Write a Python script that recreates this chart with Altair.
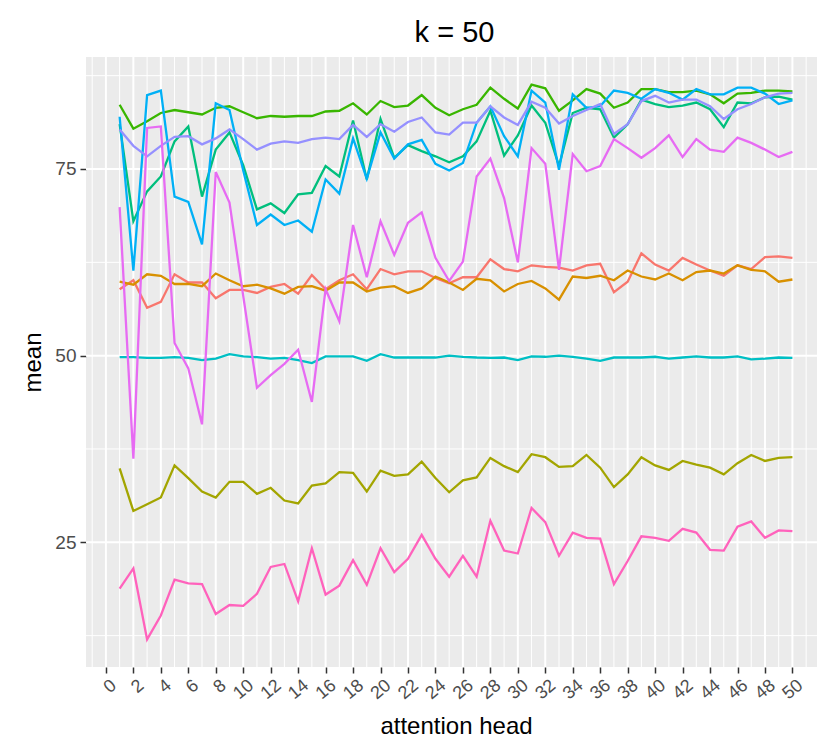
import altair as alt
import pandas as pd

heads = list(range(1, 51))

s01 = [58.9, 60.1, 56.4, 57.2, 60.9, 59.8, 59.8, 57.7, 58.8, 58.8,
       58.4, 59.2, 59.6, 58.3, 60.8, 58.9, 60.1, 60.9, 58.9, 61.6,
       60.9, 61.3, 61.3, 60.4, 59.7, 60.5, 60.5, 62.9, 61.6, 61.3,
       62.1, 61.9, 61.8, 61.4, 62.1, 62.3, 58.5, 59.9, 63.7, 62.2,
       61.4, 63.1, 62.2, 61.4, 60.7, 62.1, 61.6, 63.2, 63.3, 63.1]
s02 = [59.9, 59.5, 60.9, 60.7, 59.6, 59.6, 59.3, 61.0, 60.1, 59.3,
       59.5, 59.0, 58.3, 59.2, 59.3, 58.7, 59.8, 59.8, 58.6, 59.1,
       59.3, 58.4, 59.0, 60.6, 59.8, 58.8, 60.3, 60.1, 58.6, 59.6,
       60.0, 59.0, 57.5, 60.6, 60.4, 60.7, 60.1, 61.4, 60.6, 60.2,
       61.0, 60.1, 61.2, 61.4, 61.0, 62.1, 61.5, 61.3, 59.9, 60.2]
s03 = [34.9, 29.2, 30.1, 31.0, 35.3, 33.6, 31.8, 31.0, 33.1, 33.1,
       31.5, 32.3, 30.6, 30.2, 32.6, 32.9, 34.4, 34.3, 31.8, 34.6,
       33.9, 34.1, 35.8, 33.6, 31.7, 33.3, 33.7, 36.3, 35.2, 34.4,
       36.8, 36.4, 35.1, 35.2, 36.7, 35.0, 32.4, 34.1, 36.4, 35.3,
       34.7, 35.9, 35.4, 35.0, 34.1, 35.6, 36.7, 35.9, 36.3, 36.4]
s04 = [83.6, 80.4, 81.4, 82.5, 82.9, 82.6, 82.3, 83.2, 83.4, 82.6,
       81.8, 82.1, 82.0, 82.1, 82.1, 82.7, 82.8, 83.8, 82.3, 84.1,
       83.3, 83.5, 84.9, 83.2, 82.2, 83.0, 83.6, 85.9, 84.4, 83.1,
       86.3, 85.8, 82.8, 84.2, 85.7, 85.1, 83.2, 83.9, 85.7, 85.7,
       85.3, 85.3, 85.5, 85.0, 83.8, 85.1, 85.2, 85.5, 85.5, 85.4]
s05 = [81.0, 68.0, 72.0, 74.0, 78.7, 80.7, 71.3, 77.6, 79.9, 75.5,
       69.6, 70.4, 69.1, 71.6, 71.8, 75.4, 74.0, 81.5, 73.6, 81.7,
       76.5, 78.2, 77.4, 76.7, 75.9, 76.7, 78.7, 82.8, 76.8, 79.5,
       83.5, 81.2, 75.4, 82.5, 83.2, 83.0, 79.2, 81.0, 84.3, 83.7,
       83.3, 83.5, 83.9, 83.0, 80.6, 83.9, 83.8, 84.6, 84.7, 84.3]
s06 = [49.8, 49.8, 49.7, 49.7, 49.8, 49.7, 49.4, 49.6, 50.2, 49.9,
       49.8, 49.6, 49.7, 49.4, 49.0, 49.9, 49.9, 49.9, 49.3, 50.2,
       49.75, 49.75, 49.75, 49.75, 50.0, 49.85, 49.75, 49.7, 49.75, 49.4,
       49.9, 49.85, 50.0, 49.85, 49.6, 49.3, 49.75, 49.75, 49.75, 49.85,
       49.6, 49.75, 49.9, 49.75, 49.75, 49.9, 49.5, 49.6, 49.75, 49.7]
s07 = [82.0, 61.4, 84.9, 85.5, 71.3, 70.6, 64.9, 83.8, 82.9, 74.8,
       67.5, 68.9, 67.5, 68.1, 66.6, 73.6, 71.7, 79.1, 73.7, 79.9,
       76.4, 78.3, 78.9, 75.7, 74.8, 75.8, 81.2, 83.4, 79.4, 76.7,
       85.5, 83.9, 74.9, 85.0, 83.2, 83.4, 85.5, 85.2, 84.4, 85.7,
       85.2, 84.3, 85.7, 85.0, 85.0, 85.9, 85.9, 85.1, 83.7, 84.2]
s08 = [80.3, 78.1, 76.7, 78.1, 79.3, 79.4, 78.3, 79.1, 80.3, 79.0,
       77.6, 78.4, 78.7, 78.5, 79.0, 79.2, 79.0, 80.9, 79.3, 81.0,
       80.0, 81.3, 81.9, 79.9, 79.6, 81.2, 81.2, 83.4, 81.9, 80.9,
       84.0, 83.2, 81.1, 82.1, 82.9, 83.7, 79.7, 81.0, 84.1, 84.8,
       83.9, 84.3, 84.3, 83.4, 81.7, 83.0, 83.7, 84.6, 85.1, 85.2]
s09 = [69.9, 36.2, 80.5, 80.7, 51.7, 48.3, 40.8, 74.6, 70.5, 58.0,
       45.7, 47.4, 48.9, 50.8, 43.8, 58.9, 54.6, 67.5, 60.5, 68.0,
       63.5, 67.8, 69.2, 63.1, 60.0, 62.6, 74.0, 76.4, 71.1, 62.5,
       77.8, 75.7, 61.5, 77.0, 74.7, 75.4, 79.0, 77.8, 76.5, 77.8,
       79.5, 76.6, 79.0, 77.6, 77.3, 79.2, 78.5, 77.6, 76.6, 77.3]
s10 = [18.8, 21.5, 12.0, 15.2, 20.0, 19.5, 19.4, 15.4, 16.6, 16.5,
       18.1, 21.7, 22.1, 17.1, 24.2, 18.0, 19.2, 22.6, 19.3, 24.2,
       21.0, 22.8, 26.0, 22.8, 20.4, 23.2, 20.4, 27.9, 23.9, 23.5,
       29.6, 27.7, 23.2, 26.3, 25.6, 25.5, 19.4, 22.5, 25.8, 25.6,
       25.2, 26.8, 26.3, 24.0, 23.9, 27.1, 27.8, 25.6, 26.6, 26.5]

series_names = ["1", "2", "3", "4", "5", "6", "7", "8", "9", "10"]
series_values = [s01, s02, s03, s04, s05, s06, s07, s08, s09, s10]
series_colors = ["#F8766D", "#D89000", "#A3A500", "#39B600", "#00BF7D",
                 "#00BFC4", "#00B0F6", "#9590FF", "#E76BF3", "#FF62BC"]

x_ticks = list(range(0, 51, 2))
x_minor = list(range(-1, 52, 2))
y_ticks = [25, 50, 75]
y_minor = [12.5, 37.5, 62.5, 87.5]

rows = []
for name, vals in zip(series_names, series_values):
    for h, v in zip(heads, vals):
        rows.append({"head": h, "mean": v, "group": name})
df = pd.DataFrame(rows)

FONT = "Liberation Sans"
xscale = alt.Scale(domain=[-1.45, 51.79], nice=False, zero=False)
yscale = alt.Scale(domain=[8.3, 90.0], nice=False, zero=False)

xaxis = alt.Axis(
    values=x_ticks, grid=False, domain=False,
    tickColor="#333333", tickSize=6, tickWidth=1.5,
    labelFont=FONT, labelFontSize=18, labelColor="#4D4D4D",
    labelAngle=-40, labelAlign="right", labelBaseline="top",
    labelPadding=3, labelOverlap=False, labelFlush=False, labelOffset=2,
    title="attention head", titleFont=FONT, titleFontSize=24,
    titleFontWeight="normal", titleColor="black",
    titleX=370, titleY=66, titleAlign="center", titleBaseline="alphabetic")
yaxis = alt.Axis(
    values=y_ticks, grid=False, domain=False,
    tickColor="#333333", tickSize=6, tickWidth=1.5,
    labelFont=FONT, labelFontSize=19, labelColor="#4D4D4D",
    labelPadding=4,
    title="mean", titleFont=FONT, titleFontSize=24,
    titleFontWeight="normal", titleColor="black", titleAngle=-90,
    titleX=-46, titleY=305, titleAlign="center", titleBaseline="alphabetic")

gx_minor = alt.Chart(pd.DataFrame({"v": x_minor})).mark_rule(
    color="white", strokeWidth=1).encode(x=alt.X("v:Q", scale=xscale, axis=xaxis))
gx_major = alt.Chart(pd.DataFrame({"v": x_ticks})).mark_rule(
    color="white", strokeWidth=2).encode(x=alt.X("v:Q", scale=xscale, axis=xaxis))
gy_minor = alt.Chart(pd.DataFrame({"v": y_minor})).mark_rule(
    color="white", strokeWidth=1).encode(y=alt.Y("v:Q", scale=yscale, axis=yaxis))
gy_major = alt.Chart(pd.DataFrame({"v": y_ticks})).mark_rule(
    color="white", strokeWidth=2).encode(y=alt.Y("v:Q", scale=yscale, axis=yaxis))

lines = alt.Chart(df).mark_line(strokeWidth=2.3).encode(
    x=alt.X("head:Q", scale=xscale, axis=xaxis),
    y=alt.Y("mean:Q", scale=yscale, axis=yaxis),
    color=alt.Color("group:N", scale=alt.Scale(domain=series_names, range=series_colors),
                    legend=None),
)

chart = alt.layer(gx_minor, gx_major, gy_minor, gy_major, lines).properties(
    width=731, height=610,
    title=alt.TitleParams("k = 50", font=FONT, fontSize=29, fontWeight="normal",
                          color="black", anchor="middle", offset=17,
                          baseline="alphabetic", dx=3, dy=32),
    autosize=alt.AutoSizeParams(type="none"),
    padding={"left": 86, "top": 57, "right": 0, "bottom": 77},
).configure_view(fill="#EBEBEB", stroke="#EBEBEB", strokeWidth=0)

chart.save("out.html", embed_options={"renderer": "svg", "actions": False})
